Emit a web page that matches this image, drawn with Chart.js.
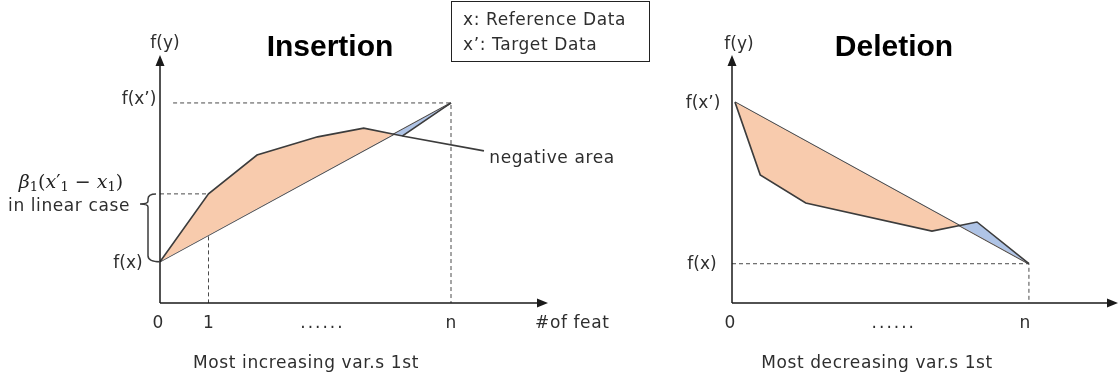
<!DOCTYPE html>
<html>
<head>
<meta charset="utf-8">
<title>Insertion / Deletion</title>
<script src="https://cdn.jsdelivr.net/npm/chart.js@4.4.1/dist/chart.umd.min.js"></script>
<style>
  body { margin: 0; background: #fff; }
  #wrap { position: relative; width: 1119px; height: 381px; overflow: hidden;
          font-family: "DejaVu Sans", Verdana, sans-serif; color: #2e2e2e; }
  canvas { position: absolute; top: 0; }
  #insChart { left: 0; }
  #delChart { left: 560px; }
  .lbl { position: absolute; white-space: nowrap; font-size: 17px; line-height: 1;
         transform: translate(-50%, -50%); }
  .wide { letter-spacing: 0.6px; }
  .title { font-family: "Liberation Sans", Arial, sans-serif; font-weight: bold; font-size: 30px; color: #000; letter-spacing: 0; }
  #legendBox { position: absolute; left: 451px; top: 1px; width: 199px; height: 61px; box-sizing: border-box;
               border: 1.5px solid #222; background: #fff; }
  #legendBox div { position: absolute; left: 11px; font-size: 17px; letter-spacing: 0.6px; line-height: 1;
                   transform: translateY(-50%); white-space: nowrap; }
  .math { font-family: "DejaVu Serif", serif; font-size: 19px; color: #222; }
  .math sub { font-size: 13px; vertical-align: -3px; }
</style>
</head>
<body>
<div id="wrap">
  <canvas id="insChart" width="560" height="381"></canvas>
  <canvas id="delChart" width="559" height="381"></canvas>

  <div class="lbl title" style="left:330px; top:46px;">Insertion</div>
  <div class="lbl title" style="left:894px; top:46px;">Deletion</div>

  <div id="legendBox">
    <div style="top:17px;">x: Reference Data</div>
    <div style="top:42px;">x’: Target Data</div>
  </div>

  <div class="lbl math" style="left:71px; top:182px;"><i>β</i><sub>1</sub>(<i>x</i>′<sub>1</sub> − <i>x</i><sub>1</sub>)</div>
  <div class="lbl wide" style="left:69px; top:205px;">in linear case</div>
  <div class="lbl wide" style="left:552px; top:157px;">negative area</div>

  <div class="lbl wide" style="left:306px; top:362px;">Most increasing var.s 1st</div>
  <div class="lbl wide" style="left:877px; top:362px;">Most decreasing var.s 1st</div>
</div>

<script>
// ---- Insertion (left) ----
const insFeat = [0, 1, 2, 3.25, 4.2, 5, 6];
const insValue = [1.0, 2.64, 3.58, 4.02, 4.23, 4.04, 4.84];
const insLinearFeat = [0, 6];
const insLinearValue = [1.0, 4.84];
const insLeaderFeat = [5, 6.68];     // line pointing at "negative area"
const insLeaderValue = [4.04, 3.68];
const insTickLabels = ['0', '1', '......', 'n', '#of feat'];
const insTickAt = [0, 1, 3.35, 6, 8.5];

// ---- Deletion (right) ----
const delFeat = [0.06, 0.57, 1.49, 4.04, 4.95, 6];
const delValue = [4.86, 3.1, 2.42, 1.74, 1.96, 0.95];
const delLinearFeat = [0.06, 6];
const delLinearValue = [4.86, 0.95];
const delTickLabels = ['0', '......', 'n'];
const delTickAt = [0, 3.27, 6];

const ORANGE = '#F8CBAD';
const BLUE = '#AFC4E6';
const LINE = '#3c3c3c';
const DASH = '#4a4a4a';

const wrap = document.getElementById('wrap');

function pts(xs, ys) {
  return xs.map((x, i) => ({ x: x, y: ys[i] }));
}

// axes with arrow heads, origin at (0,0)
const arrowAxes = {
  id: 'arrowAxes',
  afterDatasetsDraw(chart) {
    const { ctx, chartArea, scales } = chart;
    const ox = scales.x.getPixelForValue(0);
    const oy = scales.y.getPixelForValue(0);
    ctx.save();
    ctx.strokeStyle = '#1a1a1a';
    ctx.fillStyle = '#1a1a1a';
    ctx.lineWidth = 1.5;
    ctx.beginPath();
    ctx.moveTo(ox, oy); ctx.lineTo(chartArea.right - 8, oy);
    ctx.moveTo(ox, oy); ctx.lineTo(ox, chartArea.top + 8);
    ctx.stroke();
    ctx.beginPath();
    ctx.moveTo(chartArea.right, oy);
    ctx.lineTo(chartArea.right - 11, oy - 4.5);
    ctx.lineTo(chartArea.right - 11, oy + 4.5);
    ctx.closePath();
    ctx.moveTo(ox, chartArea.top);
    ctx.lineTo(ox - 4.5, chartArea.top + 11);
    ctx.lineTo(ox + 4.5, chartArea.top + 11);
    ctx.closePath();
    ctx.fill();
    ctx.restore();
  }
};

// curly brace between f(x) and the first step (insertion only)
const brace = {
  id: 'brace',
  afterDraw(chart, args, opts) {
    if (!opts || opts.from == null) return;
    const { ctx, scales } = chart;
    const x0 = scales.x.getPixelForValue(0);
    const yTop = scales.y.getPixelForValue(opts.to);
    const yBot = scales.y.getPixelForValue(opts.from);
    const xr = x0 - 4, xs = x0 - 12, xp = x0 - 20, ym = yTop + 10;
    ctx.save();
    ctx.strokeStyle = LINE;
    ctx.lineWidth = 1.5;
    ctx.beginPath();
    ctx.moveTo(xr, yTop);
    ctx.quadraticCurveTo(xs, yTop, xs, yTop + 5);
    ctx.lineTo(xs, ym - 3);
    ctx.quadraticCurveTo(xs, ym, xp, ym);
    ctx.quadraticCurveTo(xs, ym, xs, ym + 3);
    ctx.lineTo(xs, yBot - 6);
    ctx.quadraticCurveTo(xs, yBot, x0, yBot);
    ctx.stroke();
    ctx.restore();
  }
};

// html labels placed through the chart's scales
const htmlLabels = {
  id: 'htmlLabels',
  afterDraw(chart, args, opts) {
    const xs = chart.scales.x, ys = chart.scales.y;
    const offset = chart.canvas.offsetLeft;
    (opts.items || []).forEach((it, i) => {
      const id = chart.canvas.id + '-lbl-' + i;
      let el = document.getElementById(id);
      if (!el) {
        el = document.createElement('div');
        el.id = id;
        el.className = 'lbl';
        el.textContent = it.text;
        if (it.style) el.style.cssText = it.style;
        wrap.appendChild(el);
      }
      const px = xs.getPixelForValue(it.x != null ? it.x : 0) + (it.dx || 0) + offset;
      const py = ys.getPixelForValue(it.y != null ? it.y : 0) + (it.dy || 0);
      el.style.left = px + 'px';
      el.style.top = py + 'px';
    });
  }
};

function baseOptions(pad, xMax, plugins) {
  return {
    responsive: false,
    animation: false,
    devicePixelRatio: 1,
    layout: { padding: pad },
    scales: {
      x: { type: 'linear', min: 0, max: xMax, display: false },
      y: { type: 'linear', min: 0, max: 6, display: false }
    },
    elements: { point: { radius: 0, hoverRadius: 0 }, line: { tension: 0 } },
    plugins: Object.assign({ legend: { display: false }, tooltip: { enabled: false } }, plugins)
  };
}

// ---- left chart ----
const insLast = insFeat.length - 1;
const insTicks = insTickLabels.map((t, i) => ({ text: t, x: insTickAt[i], dy: 19, dx: i === 0 ? -2 : 0,
  style: i === 2 ? 'letter-spacing:2px' : (i === 4 ? 'letter-spacing:0.6px' : '') }));

new Chart(document.getElementById('insChart'), {
  type: 'line',
  data: {
    datasets: [
      { data: pts(insFeat, insValue), borderColor: LINE, borderWidth: 1.6,
        fill: { target: 1, above: ORANGE, below: BLUE }, clip: false },
      { data: pts(insLinearFeat, insLinearValue), borderColor: LINE, borderWidth: 1.6, fill: false, clip: false },
      { data: [{ x: 0.27, y: insValue[insLast] }, { x: insFeat[insLast], y: insValue[insLast] }, { x: insFeat[insLast], y: 0 }],
        borderColor: DASH, borderWidth: 1, borderDash: [4, 3], fill: false },
      { data: [{ x: 0, y: insValue[1] }, { x: insFeat[1], y: insValue[1] }, { x: insFeat[1], y: 0 }],
        borderColor: DASH, borderWidth: 1, borderDash: [4, 3], fill: false },
      { data: pts(insLeaderFeat, insLeaderValue), borderColor: LINE, borderWidth: 1.6, fill: false, clip: false }
    ]
  },
  options: baseOptions({ left: 160, right: 12, top: 55, bottom: 78 }, 8, {
    brace: { from: insValue[0], to: insValue[1] },
    htmlLabels: { items: insTicks.concat([
      { text: 'f(x)', y: insValue[0], dx: -32 },
      { text: 'f(x’)', y: insValue[insLast], dx: -21, dy: -5 },
      { text: 'f(y)', y: 6, dx: 5, dy: -13 }
    ]) }
  }),
  plugins: [arrowAxes, brace, htmlLabels]
});

// ---- right chart ----
const delLast = delFeat.length - 1;
const delTicks = delTickLabels.map((t, i) => ({ text: t, x: delTickAt[i], dy: 19, dx: i === 0 ? -2 : (i === 2 ? -4 : 0),
  style: i === 1 ? 'letter-spacing:2px' : '' }));

new Chart(document.getElementById('delChart'), {
  type: 'line',
  data: {
    datasets: [
      { data: pts(delFeat, delValue), borderColor: LINE, borderWidth: 1.6,
        fill: { target: 1, above: BLUE, below: ORANGE }, clip: false },
      { data: pts(delLinearFeat, delLinearValue), borderColor: LINE, borderWidth: 1.6, fill: false, clip: false },
      { data: [{ x: 0, y: delValue[delLast] }, { x: delFeat[delLast], y: delValue[delLast] }, { x: delFeat[delLast], y: 0 }],
        borderColor: DASH, borderWidth: 1, borderDash: [4, 3], fill: false }
    ]
  },
  options: baseOptions({ left: 172, right: 1, top: 55, bottom: 78 }, 7.8, {
    htmlLabels: { items: delTicks.concat([
      { text: 'f(x)', y: delValue[delLast], dx: -30, dy: -1 },
      { text: 'f(x’)', y: delValue[0], dx: -29 },
      { text: 'f(y)', y: 6, dx: 7, dy: -12 }
    ]) }
  }),
  plugins: [arrowAxes, htmlLabels]
});
</script>
</body>
</html>
